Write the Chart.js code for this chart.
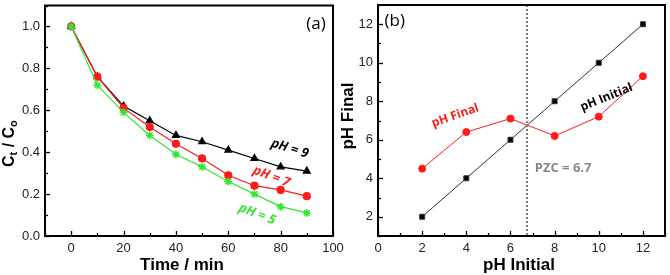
<!DOCTYPE html>
<html>
<head>
<meta charset="utf-8">
<script src="https://cdn.jsdelivr.net/npm/chart.js@4"></script>
<style>
  body { margin: 0; background: #fff; }
  #wrap { position: relative; width: 670px; height: 275px; }
  canvas { position: absolute; top: 0; }
  #cA { left: 0; }
  #cB { left: 336px; }
</style>
</head>
<body>
<div id="wrap">
  <canvas id="cA" width="352" height="275"></canvas>
  <canvas id="cB" width="334" height="275"></canvas>
</div>
<script>
// panel (a): kinetics at different pH
const timeMin = [0, 10, 20, 30, 40, 50, 60, 70, 80, 90];
const ctPh9 = [1.0, 0.76, 0.62, 0.55, 0.48, 0.45, 0.41, 0.37, 0.33, 0.31];
const ctPh7 = [1.0, 0.76, 0.61, 0.52, 0.44, 0.37, 0.29, 0.24, 0.22, 0.19];
const ctPh5 = [1.0, 0.72, 0.59, 0.48, 0.39, 0.33, 0.26, 0.20, 0.14, 0.11];
const xTicksA = [0, 20, 40, 60, 80, 100];
const yTicksA = [0.0, 0.2, 0.4, 0.6, 0.8, 1.0];

// panel (b): point of zero charge
const phInitial = [2, 4, 6, 8, 10, 12];
const phFinal = [4.5, 6.4, 7.1, 6.2, 7.2, 9.3];
const pzcLine = 6.75;
const xTicksB = [0, 2, 4, 6, 8, 10, 12];
const yTicksB = [2, 4, 6, 8, 10, 12];

const tickFont = { family: 'Liberation Sans', size: 13 };
const GREEN = '#33e633';
const RED = '#ff1a1a';

function pts(xs, ys) { return xs.map((x, i) => ({ x: x, y: ys[i] })); }

// frame + inward ticks + text
function framePlugin(opts) {
  return {
    id: 'frame',
    afterDatasetsDraw(chart) {
      const ctx = chart.ctx, a = chart.chartArea;
      const xs = chart.scales.x, ys = chart.scales.y;
      ctx.save();
      if (opts.before) opts.before(chart, ctx);
      ctx.strokeStyle = '#000';
      ctx.lineWidth = 1.3;
      // x ticks
      for (let v = xs.min; v <= xs.max + 1e-9; v += opts.xMinor) {
        const px = Math.round(xs.getPixelForValue(v)) + 0.5;
        const major = opts.xMajor.some(t => Math.abs(t - v) < 1e-9);
        ctx.beginPath();
        ctx.moveTo(px, a.bottom);
        ctx.lineTo(px, a.bottom - (major ? 5 : 3));
        ctx.stroke();
      }
      for (let v = ys.min; v <= ys.max + 1e-9; v += opts.yMinor) {
        const py = Math.round(ys.getPixelForValue(v)) + 0.5;
        const major = opts.yMajor.some(t => Math.abs(t - v) < 1e-9);
        ctx.beginPath();
        ctx.moveTo(a.left, py);
        ctx.lineTo(a.left + (major ? 5 : 3), py);
        ctx.stroke();
      }
      ctx.lineWidth = 2;
      ctx.strokeRect(a.left, a.top, a.right - a.left, a.bottom - a.top);
      if (opts.after) opts.after(chart, ctx);
      ctx.restore();
    }
  };
}

function rotText(ctx, txt, x, y, deg, font, color) {
  ctx.save();
  ctx.translate(x, y);
  ctx.rotate(deg * Math.PI / 180);
  ctx.font = font;
  ctx.fillStyle = color;
  ctx.textAlign = 'center';
  ctx.textBaseline = 'middle';
  ctx.fillText(txt, 0, 0);
  ctx.restore();
}

function noPad(s) {
  s.paddingTop = 0; s.paddingBottom = 0; s.paddingLeft = 0; s.paddingRight = 0;
}

function baseOptions(xMin, xMax, yMin, yMax, xT, yT, yW, padRight) {
  return {
    responsive: false,
    animation: false,
    devicePixelRatio: 1,
    layout: { padding: { top: 3, right: padRight, left: 0, bottom: 0 } },
    plugins: { legend: { display: false }, tooltip: { enabled: false } },
    scales: {
      x: {
        type: 'linear', min: xMin, max: xMax,
        grid: { display: false, drawTicks: false, tickLength: 0 }, border: { display: false },
        afterBuildTicks: s => { s.ticks = xT.map(v => ({ value: v })); },
        afterFit: s => { s.height = 39; noPad(s); },
        ticks: { color: '#222', font: tickFont, padding: 5, maxRotation: 0 }
      },
      y: {
        type: 'linear', min: yMin, max: yMax,
        grid: { display: false, drawTicks: false, tickLength: 0 }, border: { display: false },
        afterBuildTicks: s => { s.ticks = yT.map(v => ({ value: v })); },
        afterFit: s => { s.width = yW; noPad(s); },
        ticks: { color: '#222', font: tickFont, padding: 5 }
      }
    }
  };
}

// ---- chart (a)
const optA = baseOptions(-10, 100, 0, 1.1, xTicksA, yTicksA, 45, 19);
optA.scales.x.ticks.callback = v => v;
optA.scales.y.ticks.callback = v => v.toFixed(1);

new Chart(document.getElementById('cA'), {
  type: 'line',
  data: {
    datasets: [
      { data: pts(timeMin, ctPh5), borderColor: GREEN, backgroundColor: GREEN,
        pointStyle: 'star', pointRadius: 4, pointBorderWidth: 1.5, borderWidth: 1.2 },
      { data: pts(timeMin, ctPh7), borderColor: RED, backgroundColor: RED,
        pointStyle: 'circle', pointRadius: 3.5, borderWidth: 1.2 },
      { data: pts(timeMin, ctPh9), borderColor: '#000', backgroundColor: '#000',
        pointStyle: 'triangle', pointRadius: 4, borderWidth: 1.2 }
    ]
  },
  options: optA,
  plugins: [framePlugin({
    xMinor: 10, xMajor: xTicksA, yMinor: 0.1, yMajor: yTicksA,
    after(chart, ctx) {
      const xs = chart.scales.x, ys = chart.scales.y;
      const f = 'italic bold 13px "Open Sans"';
      rotText(ctx, 'pH = 9', xs.getPixelForValue(83.5), ys.getPixelForValue(0.417), 17, f, '#000');
      rotText(ctx, 'pH = 7', xs.getPixelForValue(76.5), ys.getPixelForValue(0.283), 21, f, RED);
      rotText(ctx, 'pH = 5', xs.getPixelForValue(71), ys.getPixelForValue(0.104), 21, f, GREEN);
      ctx.font = '17px "Open Sans"';
      ctx.fillStyle = '#000';
      ctx.textAlign = 'center';
      ctx.textBaseline = 'middle';
      ctx.fillText('(a)', xs.getPixelForValue(93.5), ys.getPixelForValue(1.013));
      // axis titles
      ctx.font = 'bold 17px "Liberation Sans"';
      ctx.fillText('Time / min', 182, 265);
      ctx.save();
      ctx.translate(10, 145);
      ctx.rotate(-Math.PI / 2);
      ctx.textAlign = 'left';
      ctx.textBaseline = 'middle';
      let x = -22;
      const parts = [['C', 16, 0], ['t', 11, 4], [' / C', 16, 0], ['o', 11, 4]];
      parts.forEach(p => {
        ctx.font = 'bold ' + p[1] + 'px "Liberation Sans"';
        ctx.fillText(p[0], x, p[2]);
        x += ctx.measureText(p[0]).width;
      });
      ctx.restore();
    }
  })]
});

// ---- chart (b)
const optB = baseOptions(0, 13, 1, 13, xTicksB, yTicksB, 42, 2);

new Chart(document.getElementById('cB'), {
  type: 'line',
  data: {
    datasets: [
      { data: pts(phInitial, phInitial), borderColor: '#333', backgroundColor: '#000',
        pointStyle: 'rect', pointRadius: 3.5, borderWidth: 1 },
      { data: pts(phInitial, phFinal), borderColor: RED, backgroundColor: RED,
        pointStyle: 'circle', pointRadius: 3.5, borderWidth: 1 }
    ]
  },
  options: optB,
  plugins: [framePlugin({
    xMinor: 1, xMajor: xTicksB, yMinor: 1, yMajor: yTicksB,
    before(chart, ctx) {
      const xs = chart.scales.x, a = chart.chartArea;
      const px = xs.getPixelForValue(pzcLine);
      ctx.save();
      ctx.strokeStyle = '#7a7a7a';
      ctx.lineWidth = 2;
      ctx.setLineDash([2, 2]);
      ctx.beginPath();
      ctx.moveTo(px, a.top);
      ctx.lineTo(px, a.bottom);
      ctx.stroke();
      ctx.restore();
    },
    after(chart, ctx) {
      const xs = chart.scales.x, ys = chart.scales.y;
      const f = 'bold 12px "Open Sans"';
      rotText(ctx, 'pH Initial', xs.getPixelForValue(10.35), ys.getPixelForValue(8.2), -22, f, '#000');
      rotText(ctx, 'pH Final', xs.getPixelForValue(3.5), ys.getPixelForValue(7.25), -19, f, RED);
      ctx.font = 'bold 13px "Open Sans"';
      ctx.fillStyle = '#888';
      ctx.textAlign = 'left';
      ctx.textBaseline = 'middle';
      ctx.fillText('PZC = 6.7', xs.getPixelForValue(7.1), ys.getPixelForValue(4.5));
      ctx.font = '17px "Open Sans"';
      ctx.fillStyle = '#000';
      ctx.textAlign = 'center';
      ctx.fillText('(b)', xs.getPixelForValue(0.76), ys.getPixelForValue(12.17));
      ctx.font = 'bold 17px "Liberation Sans"';
      ctx.fillText('pH Initial', 519 - 336, 265);
      ctx.save();
      ctx.translate(12, 116);
      ctx.rotate(-Math.PI / 2);
      ctx.fillText('pH Final', 0, 0);
      ctx.restore();
    }
  })]
});
</script>
</body>
</html>
